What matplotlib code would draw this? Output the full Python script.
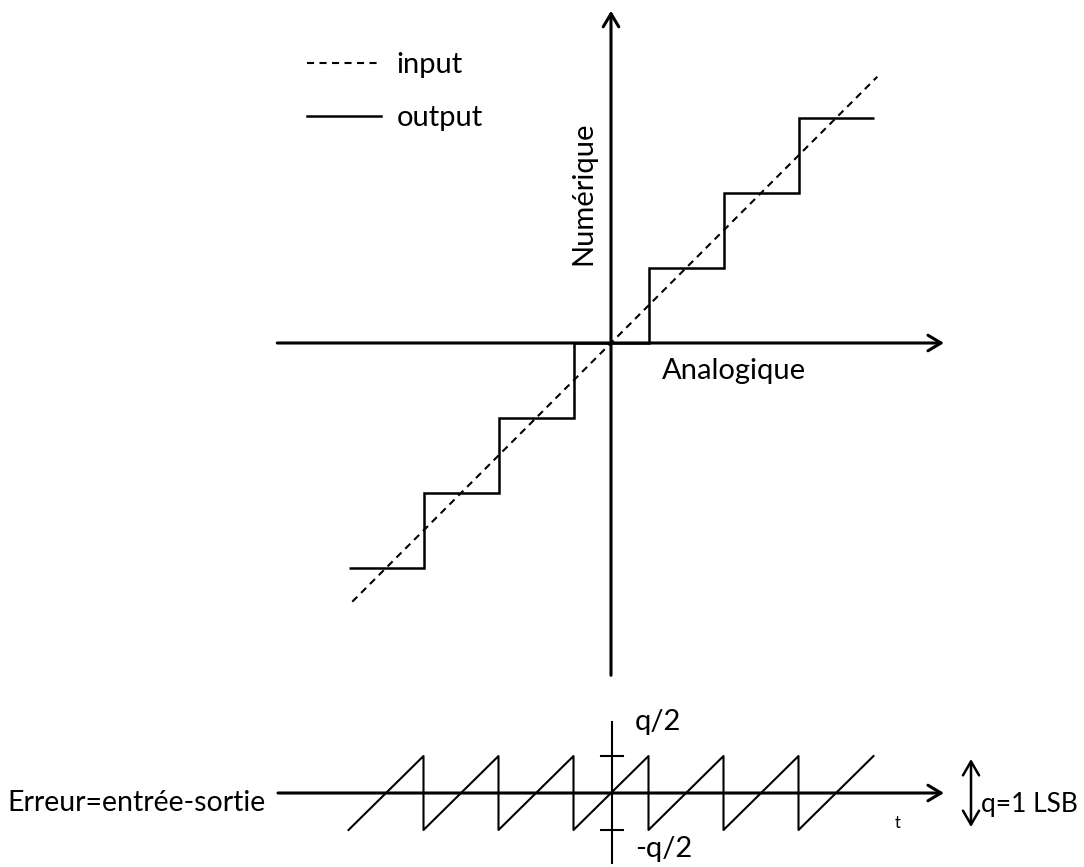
import numpy as np
import matplotlib.pyplot as plt

plt.rcParams['font.family'] = ['Lato', 'DejaVu Sans']

# staircase output of the quantizer
step_edges = [-3.5, -2.5, -1.5, -0.5, 0.5, 1.5, 2.5, 3.5]
step_levels = [-3, -2, -1, 0, 1, 2, 3]

# ideal input (dashed)
input_x = [-3.45, 3.55]
input_y = [-3.45, 3.55]

# quantization error sawtooth
saw_x = [-3.5, -2.5, -2.5, -1.5, -1.5, -0.5, -0.5, 0.5, 0.5, 1.5, 1.5, 2.5, 2.5, 3.5]
saw_y = [-0.5, 0.5, -0.5, 0.5, -0.5, 0.5, -0.5, 0.5, -0.5, 0.5, -0.5, 0.5, -0.5, 0.5]

W, H = 1084, 867
fig = plt.figure(figsize=(W / 100, H / 100), dpi=100)

# main transfer plot: 75 px per unit, origin at (611, 343) px
ax = fig.add_axes([273.5 / W, (H - 680.5) / H, 675 / W, 675 / H])
ax.set_xlim(-4.5, 4.5)
ax.set_ylim(-4.5, 4.5)
ax.axis('off')

arrow = dict(arrowstyle='->,head_length=0.47,head_width=0.28', lw=2.2,
             color='black', shrinkA=0, shrinkB=0, mutation_scale=20)
ax.annotate('', xy=(4.44, 0), xytext=(-4.45, 0), arrowprops=arrow)
ax.annotate('', xy=(0, 4.43), xytext=(0, -4.43), arrowprops=arrow)

ax.plot(input_x, input_y, color='black', lw=1.5, dashes=(3.4, 2.6), label='input')
ax.stairs(step_levels, step_edges, baseline=None, color='black', lw=1.8, label='output')

ax.legend(loc='upper left', bbox_to_anchor=(307 / W, 1 - 52 / H),
          bbox_transform=fig.transFigure, frameon=False, fontsize=21,
          handlelength=2.53, handletextpad=0.55, labelspacing=0.94,
          borderpad=0, borderaxespad=0)

ax.text(-0.37, 2.0, 'Numérique', rotation=90, ha='center', va='center', fontsize=21)
ax.text(0.68, -0.48, 'Analogique', ha='left', va='baseline', fontsize=21)

# error plot: 75 px per unit in x, 74 px per unit in y, origin at (611, 793) px
ax2 = fig.add_axes([273.5 / W, (H - 863.3) / H, 675 / W, 142.8 / H])
ax2.set_xlim(-4.5, 4.5)
ax2.set_ylim(-0.95, 0.98)
ax2.axis('off')

ax2.annotate('', xy=(4.44, 0), xytext=(-4.44, 0), arrowprops=arrow)
ax2.plot([0.01, 0.01], [-0.95, 0.96], color='black', lw=1.5, clip_on=False)
for v in (-0.5, 0.5):
    ax2.plot([-0.14, 0.16], [v, v], color='black', lw=1.5)
ax2.plot(saw_x, saw_y, color='black', lw=1.5)

ax2.annotate('', xy=(4.8, -0.46), xytext=(4.8, 0.46),
             arrowprops=dict(arrowstyle='<->,head_length=0.5,head_width=0.29', lw=1.8,
                             color='black', shrinkA=0, shrinkB=0, mutation_scale=20),
             annotation_clip=False)

ax2.text(0.32, 0.85, 'q/2', ha='left', va='baseline', fontsize=21)
ax2.text(0.32, -0.865, '-q/2', ha='left', va='baseline', fontsize=21)
ax2.text(3.82, -0.4, 't', ha='center', va='center', fontsize=12)
ax2.text(4.93, -0.26, 'q=1 LSB', ha='left', va='baseline', fontsize=19, clip_on=False)
ax2.text(-4.61, -0.24, 'Erreur=entrée-sortie', ha='right', va='baseline', fontsize=20.5,
         clip_on=False)

fig.savefig('out.png', dpi=100)
